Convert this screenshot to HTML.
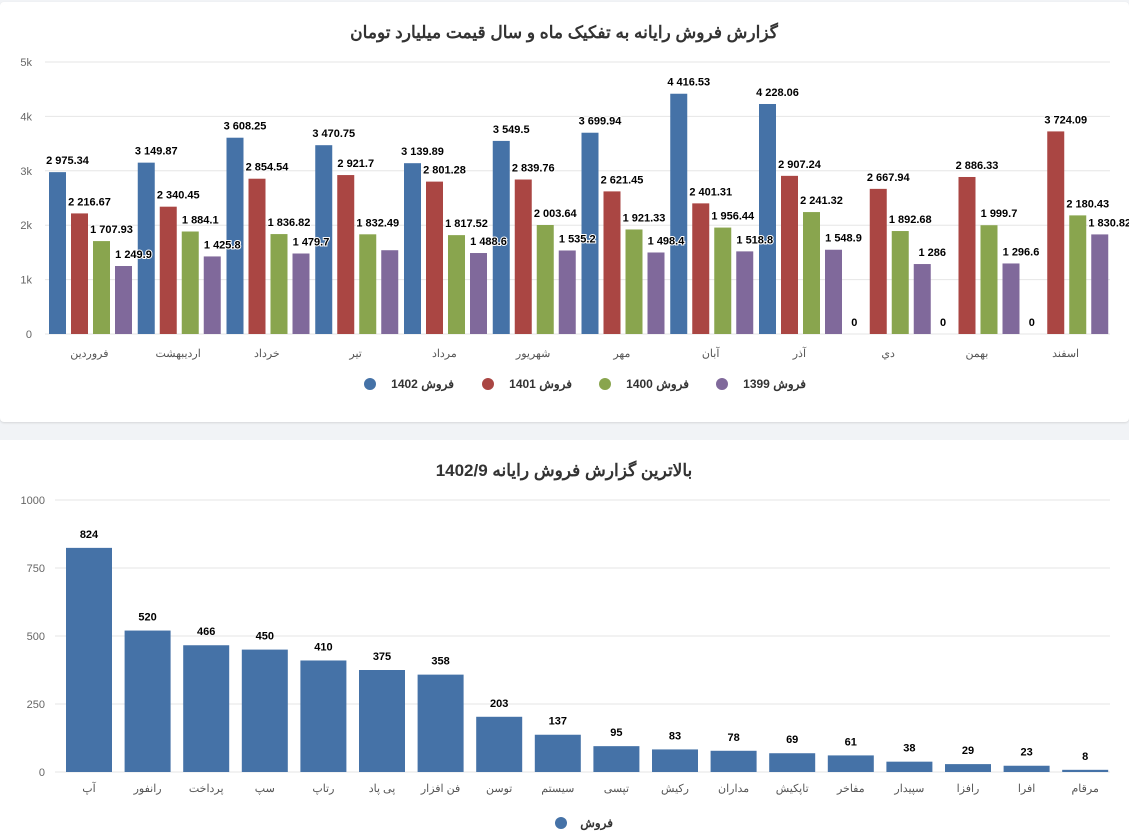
<!DOCTYPE html>
<html><head><meta charset="utf-8">
<style>
body{margin:0;background:#f1f3f6;width:1129px;height:837px;overflow:hidden;font-family:"Liberation Sans","Noto Sans CJK SC",sans-serif;}
.card{position:absolute;left:0;width:1129px;background:#fff;}
svg text{font-family:"Liberation Sans","Noto Sans CJK SC",sans-serif;}
</style></head><body>
<div class="card" style="top:2px;height:420px;border-radius:4px;box-shadow:0 1px 2px rgba(0,0,0,0.12)"></div>
<div class="card" style="top:440px;height:397px"></div>
<svg id="s" width="1129" height="837" style="position:absolute;left:0;top:0"></svg>
<script>
const months=["فروردین","اردیبهشت","خرداد","تیر","مرداد","شهریور","مهر","آبان","آذر","دي","بهمن","اسفند"];
const s1402=[2975.34,3149.87,3608.25,3470.75,3139.89,3549.5,3699.94,4416.53,4228.06,0,0,0];
const s1401=[2216.67,2340.45,2854.54,2921.7,2801.28,2839.76,2621.45,2401.31,2907.24,2667.94,2886.33,3724.09];
const s1400=[1707.93,1884.1,1836.82,1832.49,1817.52,2003.64,1921.33,1956.44,2241.32,1892.68,1999.7,2180.43];
const s1399=[1249.9,1425.8,1479.7,1540,1488.6,1535.2,1498.4,1518.8,1548.9,1286,1296.6,1830.82];
const seriesNames=["فروش 1402","فروش 1401","فروش 1400","فروش 1399"];
const topTicks=["0","1k","2k","3k","4k","5k"];
const companies=["آپ","رانفور","پرداخت","سپ","رتاپ","پی پاد","فن افزار","توسن","سیستم","تپسی","رکیش","مداران","تاپکیش","مفاخر","سپیدار","رافزا","افرا","مرقام"];
const sales=[824,520,466,450,410,375,358,203,137,95,83,78,69,61,38,29,23,8];
const botTicks=["0","250","500","750","1000"];

const svg=document.getElementById('s');const NS="http://www.w3.org/2000/svg";
function el(t,a,txt){const e=document.createElementNS(NS,t);for(const k in a)e.setAttribute(k,a[k]);if(txt!==undefined)e.textContent=txt;svg.appendChild(e);return e;}
function fmt(v){let p=String(v).split('.');let i=p[0];if(i.length>3)i=i.slice(0,i.length-3)+' '+i.slice(-3);return p[1]?i+'.'+p[1]:i;}
const colors=["#4572a7","#aa4643","#89a54e","#80699b"];

let e=el('text',{x:564,y:38,'text-anchor':'middle','font-size':17,fill:'#333','font-weight':'bold'},'گزارش فروش رایانه به تفکیک ماه و سال قیمت میلیارد تومان');

const y1=v=>334-v*272/5000, X0=45, GW=88.75;
topTicks.forEach((t,i)=>{const y=y1(i*1000);
 let g=el('line',{x1:45,x2:1110,y1:y,y2:y,stroke:'#e6e6e6'});
 let l=el('text',{x:32,y:y+4,'text-anchor':'end','font-size':11,fill:'#666'},t);});
const allS=[s1402,s1401,s1400,s1399];
months.forEach((m,i)=>{const gx=X0+i*GW;
 allS.forEach((arr,j)=>{const v=arr[i];const x=gx+4+j*22;
  if(v>0){let r=el('rect',{x:x,y:y1(v),width:17,height:334-y1(v),fill:colors[j]});}});
 let c=el('text',{x:gx+GW/2,y:357,'text-anchor':'middle','font-size':11,fill:'#555'},m);});
months.forEach((m,i)=>{const gx=X0+i*GW;
 allS.forEach((arr,j)=>{const v=arr[i];const x=gx+4+j*22;
  if(j===3&&i===3)return;
  let t=el('text',{x:x+8.5+(v>0?10:-2),y:y1(v)-8,'text-anchor':'middle','font-size':11,'font-weight':'bold',fill:'#000',stroke:'#fff','stroke-width':2,'paint-order':'stroke'},fmt(v));
  });});
const legX=[370,488,605,722];
seriesNames.forEach((n,j)=>{let c=el('circle',{cx:legX[j],cy:384,r:6,fill:colors[j]});
 let t=el('text',{x:legX[j]+84,y:388,'text-anchor':'end','font-size':12,'font-weight':'bold',fill:'#333'},n);});

e=el('text',{x:564,y:476,'text-anchor':'middle','font-size':17,fill:'#333','font-weight':'bold'},'بالاترین گزارش فروش رایانه 1402/9');

const y2=v=>772-v*272/1000, X2=60, GW2=58.6;
botTicks.forEach((t,i)=>{const y=y2(i*250);
 let g=el('line',{x1:55,x2:1110,y1:y,y2:y,stroke:'#e6e6e6'});
 let l=el('text',{x:45,y:y+4,'text-anchor':'end','font-size':11,fill:'#666'},t);});
companies.forEach((c,i)=>{const x=X2+i*GW2+6;const v=sales[i];
 let r=el('rect',{x:x,y:y2(v),width:46,height:772-y2(v),fill:'#4572a7'});
 let t=el('text',{x:x+23,y:y2(v)-10,'text-anchor':'middle','font-size':11,'font-weight':'bold',fill:'#000'},v);
 let l=el('text',{x:x+23,y:792,'text-anchor':'middle','font-size':11,fill:'#555'},c);});
e=el('circle',{cx:561,cy:823,r:6,fill:'#4572a7'});
e=el('text',{x:613,y:827,'text-anchor':'end','font-size':12,'font-weight':'bold',fill:'#333'},'فروش');
</script>
</body></html>
